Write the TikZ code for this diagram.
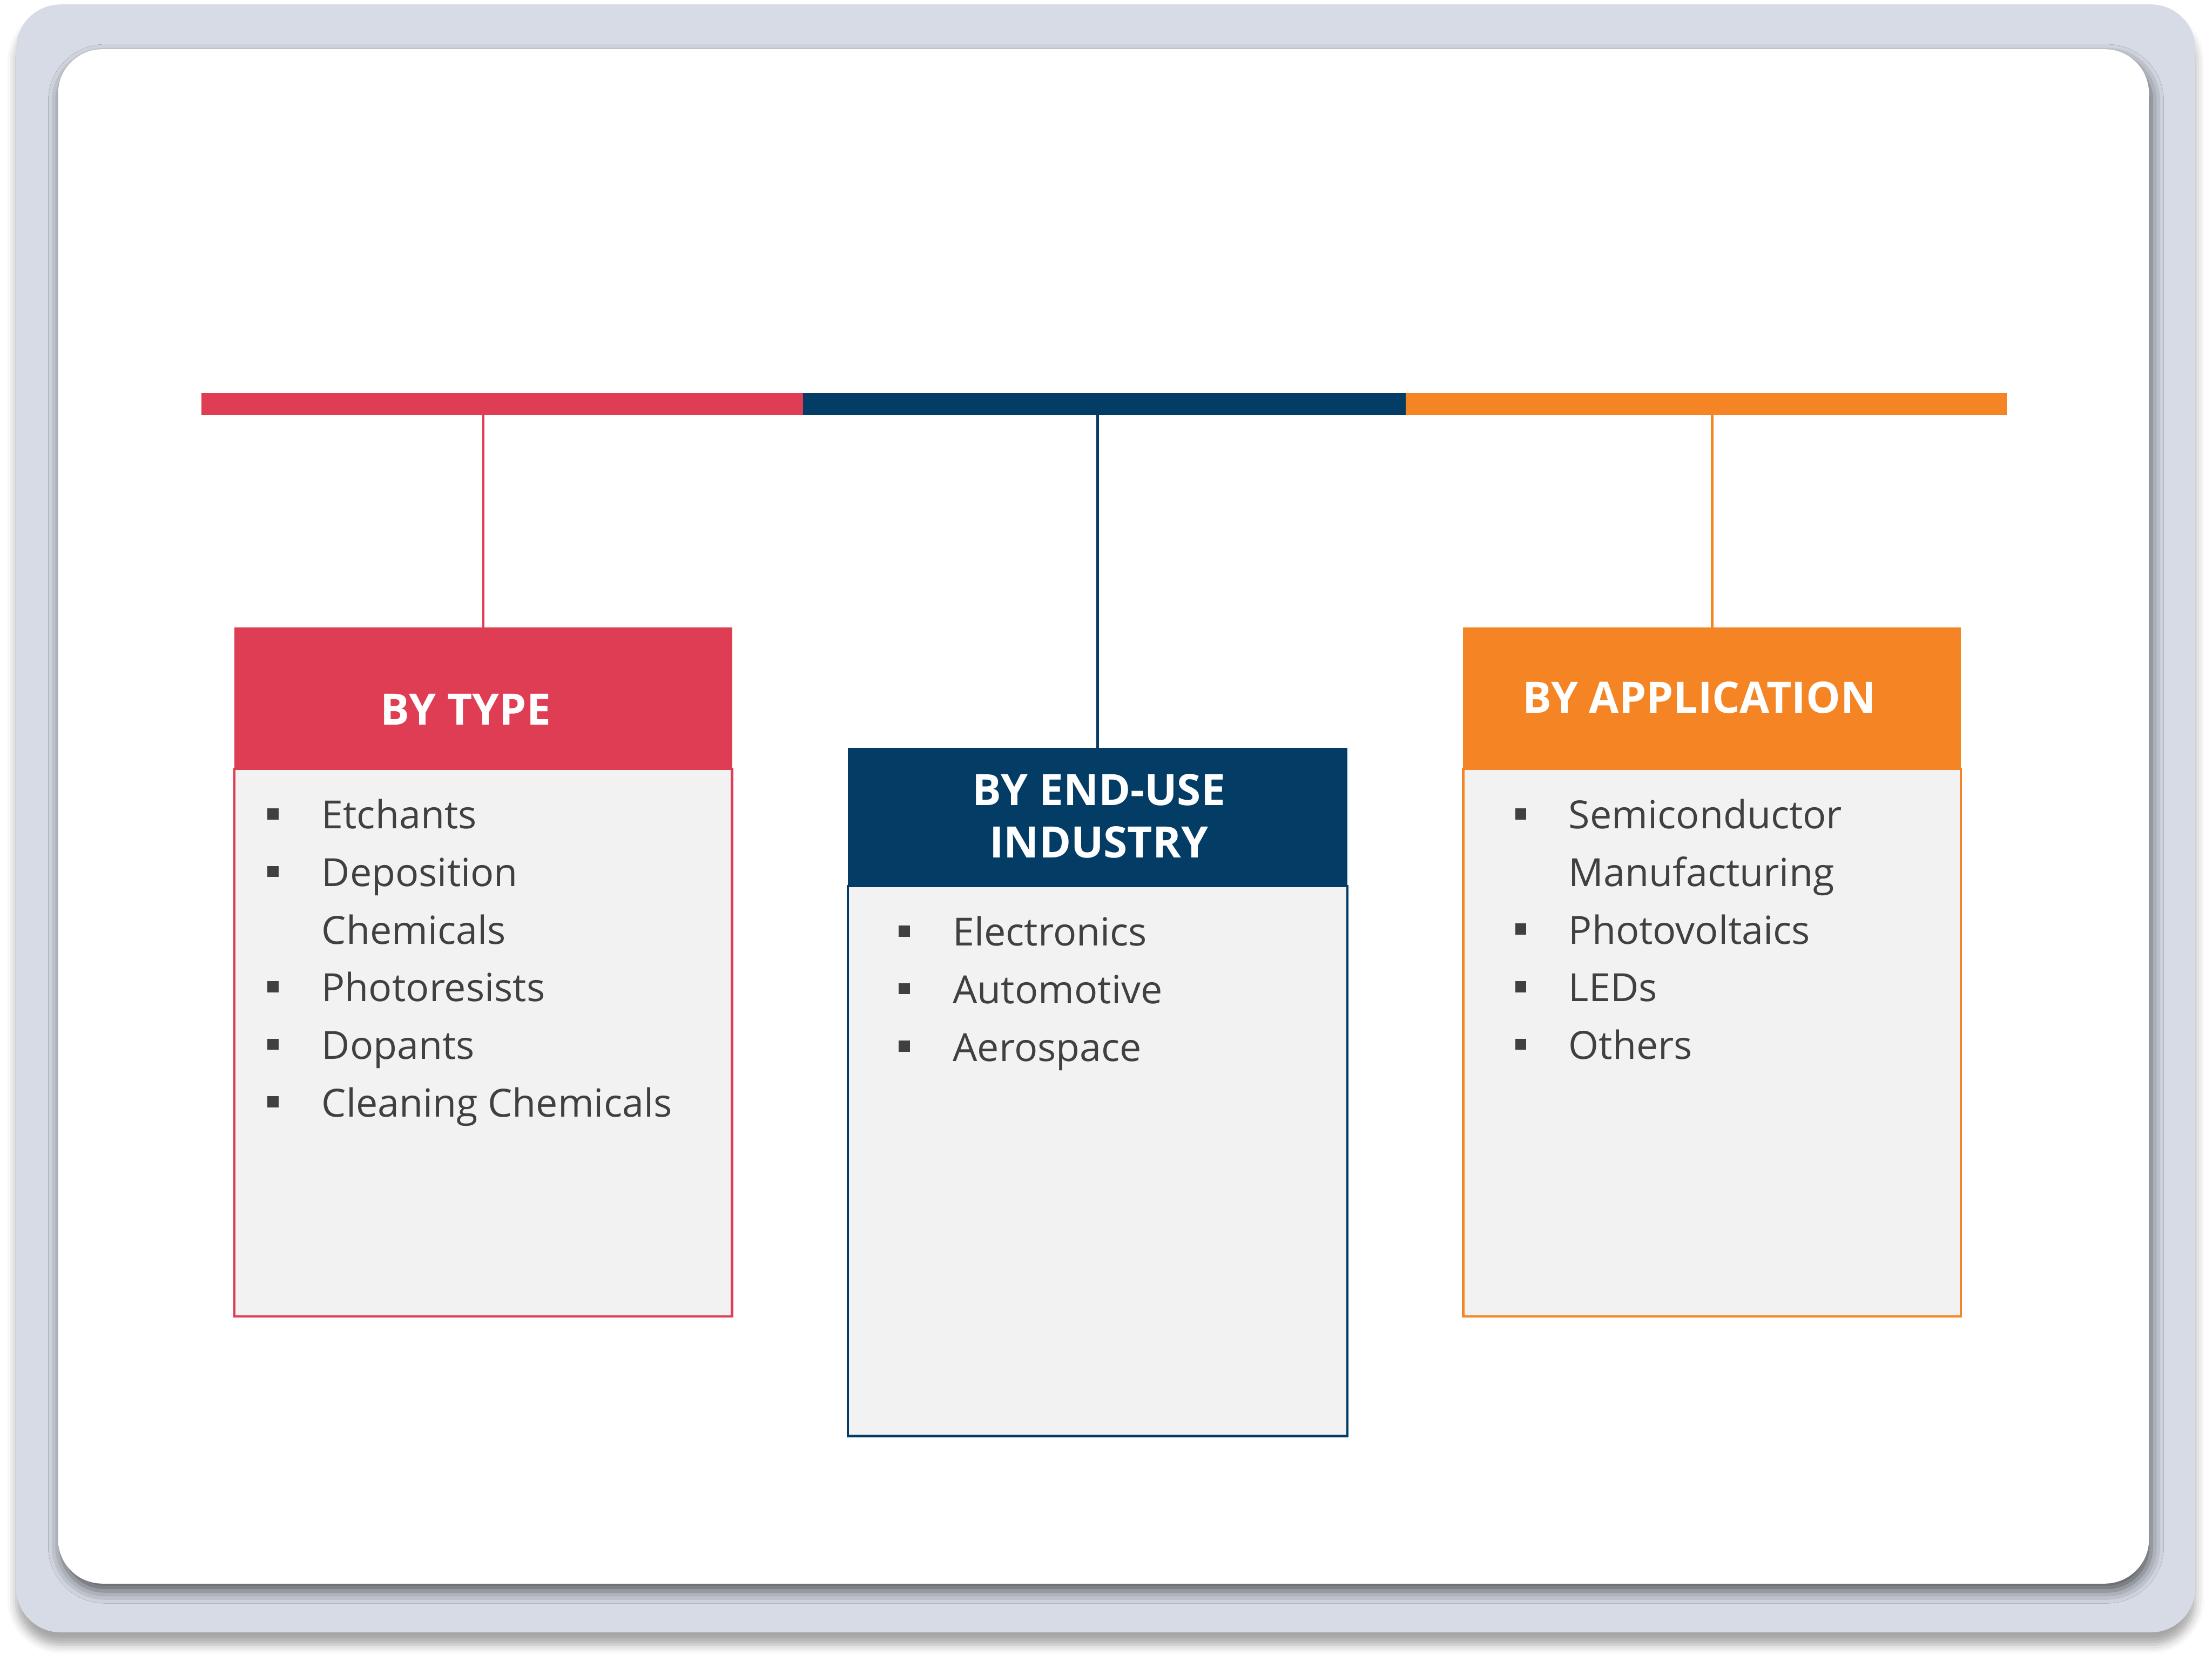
\documentclass[tikz,border=0pt]{standalone}
\usepackage{fontspec}
\setmainfont{Open Sans}
\usepackage{tikz}
\usetikzlibrary{positioning,shadows.blur}
\definecolor{typered}{rgb}{0.87, 0.24, 0.33}
\definecolor{enduseblue}{rgb}{0.01, 0.24, 0.40}
\definecolor{apporange}{rgb}{0.96, 0.52, 0.14}
\definecolor{framegray}{rgb}{0.84, 0.86, 0.90}
\definecolor{boxgray}{rgb}{0.95, 0.95, 0.95}
\definecolor{itemgray}{rgb}{0.25, 0.25, 0.25}
\newcommand{\sqbullet}{\rule[5.3pt]{6.5pt}{6.5pt}}

\begin{document}
\begin{tikzpicture}[node distance = 0cm and 0cm, line width=1.4pt,
		barseg/.style={rectangle, minimum width=12.22cm, minimum height=0.45cm, inner sep=0pt, outer sep=0pt},
		head/.style={rectangle, fill=#1, minimum width=10.11cm, minimum height=2.87cm, inner sep=0pt, outer sep=0pt},
		bodybox/.style={rectangle, fill=boxgray, draw=#1, minimum width=10.11cm, minimum height=11.12cm, inner sep=0pt, outer sep=0pt},
		title/.style={text=white, font=\fontsize{25}{30}\selectfont\bfseries, align=center, anchor=base},
		listtext/.style={text=itemgray, font=\fontsize{22.4}{33.3}\selectfont, inner sep=0pt, anchor=north west}]
			\useasboundingbox (0,0) rectangle (44.93,-33.76);
			\node [rectangle, rounded corners=0.9cm, fill=framegray, minimum width=44.26cm, minimum height=33.07cm, blur shadow={shadow xshift=0cm, shadow yshift=-0.25cm, shadow blur radius=0.18cm, shadow opacity=35}] (frame) at (22.46,-16.625) {};
			\node [rectangle, rounded corners=0.9cm, fill=white, minimum width=42.47cm, minimum height=31.17cm, blur shadow={shadow xshift=0.05cm, shadow yshift=-0.15cm, shadow blur radius=0.25cm, shadow opacity=60}] (panel) at (22.415,-16.585) {};
			\node [barseg, fill=typered] (barT) at (10.2,-8.215) {};
			\node [barseg, fill=enduseblue, minimum width=12.24cm] (barE) [right =of barT] {};
			\node [barseg, fill=apporange, minimum width=12.21cm] (barA) [right =of barE] {};
			\node [head=typered] (headT) at (9.815,-14.185) {};
			\node [head=enduseblue, minimum width=10.15cm, minimum height=2.81cm] (headE) at (22.295,-16.595) {};
			\node [head=apporange] (headA) at (34.775,-14.185) {};
			\node [bodybox=typered] (bodyT) [below =of headT] {};
			\node [bodybox=enduseblue, minimum width=10.15cm, minimum height=11.17cm] (bodyE) [below =of headE] {};
			\node [bodybox=apporange] (bodyA) [below =of headA] {};
			\draw [typered] (headT.north) -- (headT.north |- barT.south);
			\draw [enduseblue] (headE.north) -- (headE.north |- barE.south);
			\draw [apporange] (headA.north) -- (headA.north |- barA.south);
			\node [title] (titleT) at (9.46,-14.73) {BY TYPE};
			\node [title] (titleE) at (22.32,-17.42) {BY END-USE\\INDUSTRY};
			\node [title] (titleA) at (34.51,-14.48) {BY APPLICATION};
			\node [listtext] (listT) [below right =0.37cm and 0.65cm of bodyT.north west] {\begin{tabular}{@{}p{1.1cm}@{}l@{}}
				\sqbullet & Etchants\\
				\sqbullet & Deposition\\
				& Chemicals\\
				\sqbullet & Photoresists\\
				\sqbullet & Dopants\\
				\sqbullet & Cleaning Chemicals
			\end{tabular}};
			\node [listtext] (listE) [below right =0.37cm and 1.01cm of bodyE.north west] {\begin{tabular}{@{}p{1.1cm}@{}l@{}}
				\sqbullet & Electronics\\
				\sqbullet & Automotive\\
				\sqbullet & Aerospace
			\end{tabular}};
			\node [listtext] (listA) [below right =0.37cm and 1.03cm of bodyA.north west] {\begin{tabular}{@{}p{1.09cm}@{}l@{}}
				\sqbullet & Semiconductor\\
				& Manufacturing\\
				\sqbullet & Photovoltaics\\
				\sqbullet & LEDs\\
				\sqbullet & Others
			\end{tabular}};
		\end{tikzpicture}
\end{document}
